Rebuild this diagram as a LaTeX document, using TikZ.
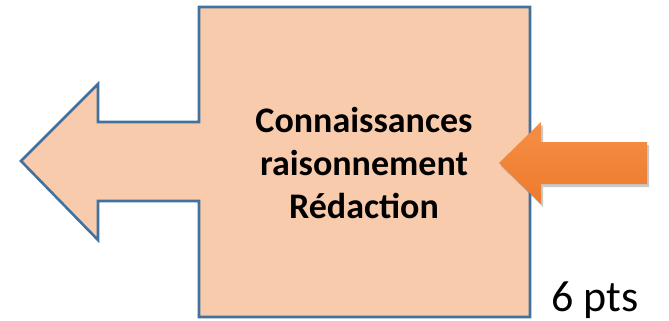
\documentclass[tikz,border=0pt]{standalone}
\usepackage{fontspec}
\setmainfont{Carlito}
\usetikzlibrary{shadows}
\definecolor{peach}{HTML}{F8CBAD}
\definecolor{edgeblue}{HTML}{41719C}
\definecolor{orangetop}{HTML}{F48F46}
\definecolor{orangebot}{HTML}{EE7A2B}
\tikzset{
  bigshape/.style={fill=peach, draw=edgeblue, line width=2.6pt, line join=miter},
  orangearrow/.style={top color=orangetop, bottom color=orangebot, draw=none,
    drop shadow={shadow xshift=2pt, shadow yshift=-3pt, opacity=0.35, fill=black!60}},
  label/.style={font=\fontsize{36}{43}\selectfont\bfseries, align=center, inner sep=0pt},
}
\begin{document}
\begin{tikzpicture}[x=1pt,y=-1pt]
\useasboundingbox (0,0) rectangle (669,321);
% main block arrow
\path[bigshape] (199,7) -- (530,7) -- (530,317) -- (199,317) -- (199,201)
  -- (98,201) -- (98,240) -- (21,161) -- (98,84) -- (98,122) -- (199,122) -- cycle;
% orange arrow
\path[orangearrow] (499,163) -- (541,122) -- (541,142) -- (647,142) -- (647,184)
  -- (541,184) -- (541,204) -- cycle;
\node[label] (txt) at (364,163) {Connaissances\\raisonnement\\Rédaction};
\node[font=\fontsize{44}{52}\selectfont, anchor=base west, inner sep=0pt] (pts) at (551,311) {6 pts};
\end{tikzpicture}
\end{document}
